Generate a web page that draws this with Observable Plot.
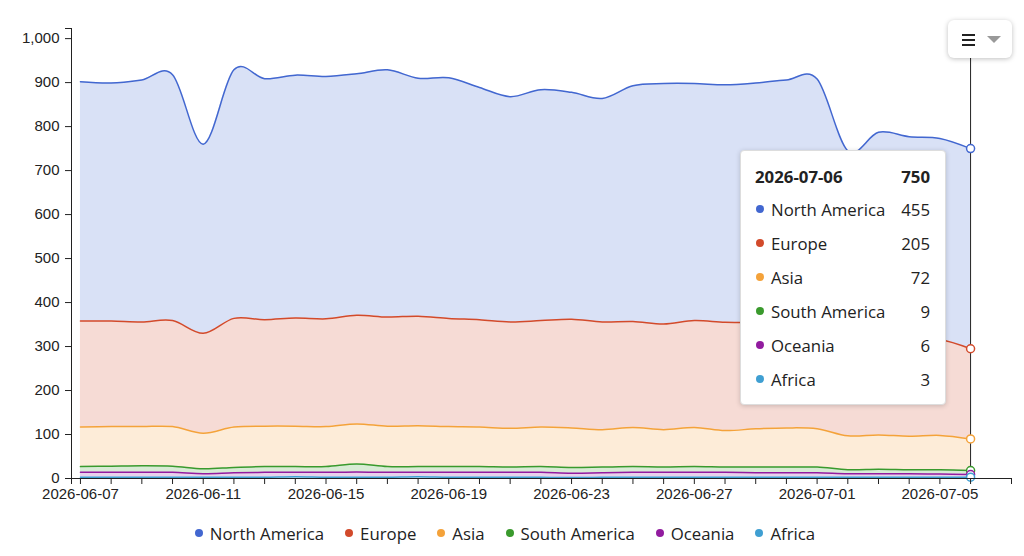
<!DOCTYPE html>
<html>
<head>
<meta charset="utf-8">
<script src="https://cdn.jsdelivr.net/npm/d3@7"></script>
<script src="https://cdn.jsdelivr.net/npm/@observablehq/plot@0.6"></script>
<style>
  html, body { margin: 0; padding: 0; background: #fff; }
  #wrap { position: relative; width: 1024px; height: 556px; overflow: hidden; font-family: "Open Sans", "Noto Sans", sans-serif; }
  #chart svg { display: block; }
  #legend { position: absolute; left: 0; top: 521px; width: 1010px; height: 24px; display: flex; justify-content: center; align-items: center; font-size: 16.8px; color: #222; }
  #legend .item { display: flex; align-items: center; margin: 0 10.5px; }
  #legend .dot { width: 8px; height: 8px; border-radius: 50%; margin-right: 7px; }
  #tooltip { position: absolute; left: 740px; top: 150px; width: 175px; padding: 9px 15px 8px 14px; background: #fff; border: 1px solid #ddd; border-radius: 4px; box-shadow: 0 1px 5px rgba(0,0,0,0.18); font-size: 16.8px; color: #222; }
  #tooltip .row { display: flex; align-items: center; height: 34px; }
  #tooltip .title { height: 32px; font-weight: bold; }
  #tooltip .dot { width: 8px; height: 8px; border-radius: 50%; margin: 0 7px 0 1px; }
  #tooltip .name { flex: 1; white-space: nowrap; }
  #tooltip .val { text-align: right; }
  #menu { position: absolute; left: 948px; top: 20px; width: 64px; height: 38px; background: #fff; border-radius: 6px; box-shadow: 0 1px 5px rgba(0,0,0,0.25); }
  #menu .bar { position: absolute; left: 14px; width: 13px; height: 2px; background: #222; }
  #menu .caret { position: absolute; left: 39px; top: 16px; width: 0; height: 0; border-left: 7px solid transparent; border-right: 7px solid transparent; border-top: 7px solid #999; }
</style>
</head>
<body>
<div id="wrap">
  <div id="chart"></div>
  <div id="tooltip"></div>
  <div id="menu"><div class="bar" style="top:14px"></div><div class="bar" style="top:19px"></div><div class="bar" style="top:24px"></div><div class="caret"></div></div>
  <div id="legend"></div>
</div>
<script>
const dates = [
  "2026-06-07","2026-06-08","2026-06-09","2026-06-10","2026-06-11","2026-06-12","2026-06-13","2026-06-14","2026-06-15","2026-06-16",
  "2026-06-17","2026-06-18","2026-06-19","2026-06-20","2026-06-21","2026-06-22","2026-06-23","2026-06-24","2026-06-25","2026-06-26",
  "2026-06-27","2026-06-28","2026-06-29","2026-06-30","2026-07-01","2026-07-02","2026-07-03","2026-07-04","2026-07-05","2026-07-06"
];
const northAmerica = [544,541,550,559,430,565,548,552,551,549,562,541,547,528,512,525,516,508,536,547,539,540,544,552,556,427,467,460,457,455];
const europe       = [241,240,238,241,227,247,242,246,245,247,248,249,246,244,242,242,247,245,241,240,243,246,242,239,239,221,221,221,218,205];
const asia         = [90,90,89,90,81,92,92,92,91,91,92,93,91,90,88,90,90,85,89,85,89,83,87,89,87,77,78,76,78,72];
const southAmerica = [13,14,15,14,11,12,13,13,13,18,13,13,13,13,12,13,13,13,13,12,13,12,13,13,13,9,10,9,10,9];
const oceania      = [11,11,11,11,8,10,11,10,11,12,11,10,11,11,11,11,10,10,11,11,11,11,10,10,10,8,8,8,7,6];
const africa       = [3,3,3,3,3,3,3,4,3,3,3,4,3,3,3,3,2,3,3,3,3,3,3,3,3,3,3,3,3,3];

const seriesNames  = ["North America","Europe","Asia","South America","Oceania","Africa"];
const seriesColors = ["#4267d0","#d24a2b","#f4a23a","#3a9a2d","#921c9f","#3f9fd2"];
const yTickValues  = [0,100,200,300,400,500,600,700,800,900,1000];
const xTickLabels  = ["2026-06-07","2026-06-11","2026-06-15","2026-06-19","2026-06-23","2026-06-27","2026-07-01","2026-07-05"];

const seriesValues = [northAmerica, europe, asia, southAmerica, oceania, africa];
const dateObjs = dates.map(d => new Date(d));
const rows = [];
seriesNames.forEach((name, k) => seriesValues[k].forEach((v, i) => rows.push({date: dateObjs[i], series: name, value: v})));
const last = dates.length - 1;
const lastRows = rows.filter(r => +r.date === +dateObjs[last]);
const stackOrder = [...seriesNames].reverse();

const hour = 3600e3;
const xStart = new Date(+dateObjs[0] - 7 * hour);
const xEnd = new Date(+dateObjs[last] + 32 * hour);
const yTop = 1023;
const fmtDate = d3.utcFormat("%Y-%m-%d");
const labelSet = new Set(xTickLabels);

const chart = Plot.plot({
  width: 1024, height: 512,
  marginTop: 28, marginBottom: 34, marginLeft: 71, marginRight: 13,
  x: {type: "utc", domain: [xStart, xEnd]},
  y: {domain: [0, yTop]},
  color: {domain: seriesNames, range: seriesColors},
  style: {fontFamily: "'Liberation Sans', Arial, sans-serif", fontSize: "15px", color: "#222", background: "transparent"},
  marks: [
    Plot.areaY(rows, {x: "date", y: "value", z: "series", fill: "series", fillOpacity: 0.2, order: stackOrder, curve: "cardinal"}),
    Plot.line(rows, Plot.stackY2({x: "date", y: "value", z: "series", stroke: "series", strokeWidth: 1.5, order: stackOrder, curve: "cardinal"})),
    Plot.ruleX([dateObjs[last]], {stroke: "#222", strokeWidth: 1}),
    Plot.dot(lastRows, Plot.stackY2({x: "date", y: "value", z: "series", stroke: "series", fill: "white", r: 4, strokeWidth: 1.5, order: stackOrder})),
    Plot.ruleY([0], {stroke: "#222"}),
    Plot.ruleX([xStart], {stroke: "#222"}),
    Plot.axisX({ticks: [xStart, ...dateObjs, xEnd], tickFormat: d => labelSet.has(fmtDate(d)) && +d !== +xStart ? fmtDate(d) : "", tickSize: 6, tickPadding: 4, label: null, stroke: "#222"}),
    Plot.axisY({ticks: [...yTickValues, yTop], tickFormat: d => d > 1000 ? "" : d3.format(",")(d), tickSize: 6, tickPadding: 6, label: null, stroke: "#222"})
  ]
});
document.getElementById("chart").appendChild(chart);

// legend
const legend = document.getElementById("legend");
seriesNames.forEach((name, k) => {
  const it = document.createElement("div");
  it.className = "item";
  it.innerHTML = `<span class="dot" style="background:${seriesColors[k]}"></span><span>${name}</span>`;
  legend.appendChild(it);
});

// tooltip
const tip = document.getElementById("tooltip");
const total = d3.sum(seriesValues, s => s[last]);
let html = `<div class="row title"><span class="name">${dates[last]}</span><span class="val">${total}</span></div>`;
seriesNames.forEach((name, k) => {
  html += `<div class="row"><span class="dot" style="background:${seriesColors[k]}"></span><span class="name">${name}</span><span class="val">${seriesValues[k][last]}</span></div>`;
});
tip.innerHTML = html;
</script>
</body>
</html>
